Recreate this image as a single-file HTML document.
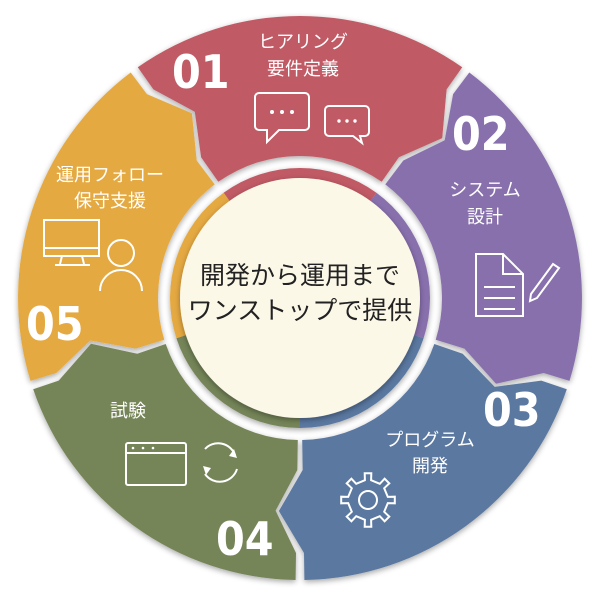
<!DOCTYPE html>
<html><head><meta charset="utf-8"><style>
html,body{margin:0;padding:0;background:#fff;width:600px;height:600px;overflow:hidden}
svg{display:block}
text{font-family:"Liberation Sans","Noto Sans CJK JP",sans-serif;fill:#fff}
.n{font-family:"DejaVu Sans Condensed","Liberation Sans",sans-serif;font-size:46px;font-weight:bold}
.l{font-size:18px}
.c{font-size:25px;fill:#222}
</style></head><body>
<svg id="s" width="600" height="600" viewBox="0 0 600 600">
<defs>
<filter id="sh" x="-10%" y="-10%" width="120%" height="120%"><feDropShadow dx="0" dy="2" stdDeviation="3" flood-color="#000" flood-opacity="0.35"/></filter>
</defs>
<g id="segs" filter="url(#sh)"></g>
<g id="inner" filter="url(#sh)"></g>
<circle cx="300" cy="298" r="120" fill="#fcf8e8" filter="url(#sh)"/>
<text class="c" x="300" y="284" text-anchor="middle">開発から運用まで</text>
<text class="c" x="300" y="319" text-anchor="middle">ワンストップで提供</text>

<text class="n" x="172" y="88">01</text>
<text class="l" x="303" y="48" text-anchor="middle">ヒアリング</text>
<text class="l" x="303" y="75" text-anchor="middle">要件定義</text>
<g fill="none" stroke="#fff" stroke-width="2">
<path d="M259 93h46a4 4 0 0 1 4 4v29a4 4 0 0 1-4 4h-26l-12 12v-12h-8a4 4 0 0 1-4-4v-29a4 4 0 0 1 4-4z"/>
<path d="M329 106h36a4 4 0 0 1 4 4v22a4 4 0 0 1-4 4h-5l2 7-9-7h-24a4 4 0 0 1-4-4v-22a4 4 0 0 1 4-4z"/>
</g>
<g fill="#fff"><circle cx="272" cy="112" r="2"/><circle cx="282" cy="112" r="2"/><circle cx="292" cy="112" r="2"/><circle cx="339" cy="121" r="1.7"/><circle cx="347" cy="121" r="1.7"/><circle cx="355" cy="121" r="1.7"/></g>

<text class="n" x="452" y="150">02</text>
<text class="l" x="485" y="196" text-anchor="middle">システム</text>
<text class="l" x="485" y="223" text-anchor="middle">設計</text>
<g fill="none" stroke="#fff" stroke-width="2">
<path d="M476 254h27l20 20v42h-47z M503 254v20h20"/>
<path d="M484 287h31M484 298h31M484 309h31"/>
<path d="M531 294l22-30 6 4-22 30-7 3z"/>
</g>

<text class="n" x="483" y="426">03</text>
<text class="l" x="430" y="446" text-anchor="middle">プログラム</text>
<text class="l" x="430" y="472" text-anchor="middle">開発</text>
<g transform="translate(368,500)" fill="none" stroke="#fff" stroke-width="2">
<path id="gear" d=""/>
<circle r="9"/>
</g>

<text class="n" x="216" y="555">04</text>
<text class="l" x="128" y="417" text-anchor="middle">試験</text>
<g fill="none" stroke="#fff" stroke-width="2">
<rect x="126" y="443" width="60" height="42" rx="2"/>
<path d="M126 453h60"/>
<path d="M205 449a18 18 0 0 1 30 6M237 469a18 18 0 0 1-32 5"/>
</g>
<g fill="#fff"><circle cx="133" cy="448" r="1.3"/><circle cx="143" cy="448" r="1.3"/><circle cx="153" cy="448" r="1.3"/>
<path d="M234 449l3 9-8-2z M206 475l-3-9 8 2z"/></g>

<text class="n" x="26" y="340">05</text>
<text class="l" x="110" y="181" text-anchor="middle">運用フォロー</text>
<text class="l" x="110" y="207" text-anchor="middle">保守支援</text>
<g fill="none" stroke="#fff" stroke-width="2">
<rect x="44" y="220" width="55" height="36"/>
<path d="M44 248h55M62 256l-2 8M82 256l2 8M55 265h35"/>
<circle cx="121" cy="253" r="13"/>
<path d="M100 291a21 21 0 0 1 42 0"/>
</g>
</svg>
<script>
var cx=300,cy=298,R=282,Ri=142;
function P(r,a){a=a*Math.PI/180;return [(cx+r*Math.sin(a)).toFixed(1),(cy-r*Math.cos(a)).toFixed(1)].join(' ');}
var segs=[[-36,36,'#c05a65'],[36,108,'#8870ad'],[108,180,'#5a78a0'],[180,252,'#748558'],[252,324,'#e5a942']];
var g=document.getElementById('segs'),gi=document.getElementById('inner');
var gap=0.9,b1=172,b2=255,tr=214,ta=7;
segs.forEach(function(s){
 var a0=s[0]+gap,a1=s[1]-gap;
 var d='M'+P(R,a0)+' A'+R+' '+R+' 0 0 1 '+P(R,a1)+
 ' L'+P(b2,a1)+' L'+P(tr,s[1]+ta-gap*1.5)+' L'+P(b1,a1)+' L'+P(Ri,a1)+
 ' A'+Ri+' '+Ri+' 0 0 0 '+P(Ri,a0)+' L'+P(b1,a0)+' L'+P(tr,s[0]+ta-gap*0.5)+' L'+P(b2,a0)+'Z';
 var p=document.createElementNS('http://www.w3.org/2000/svg','path');p.setAttribute('d',d);p.setAttribute('fill',s[2]);g.appendChild(p);
 var r=130,q=document.createElementNS('http://www.w3.org/2000/svg','path');
 q.setAttribute('d','M'+cx+' '+cy+' L'+P(r,s[0])+' A'+r+' '+r+' 0 0 1 '+P(r,s[1])+'Z');q.setAttribute('fill',s[2]);gi.appendChild(q);
});
var gd='';for(var i=0;i<8;i++){var a=i*45;var pts=[[a-9,20],[a-7,27],[a+7,27],[a+9,20]];pts.forEach(function(t,j){var r=t[1],an=t[0]*Math.PI/180;gd+=(i==0&&j==0?'M':'L')+(r*Math.sin(an)).toFixed(1)+' '+(-r*Math.cos(an)).toFixed(1)+' ';});}
document.getElementById('gear').setAttribute('d',gd+'Z');
</script>
</body></html>
